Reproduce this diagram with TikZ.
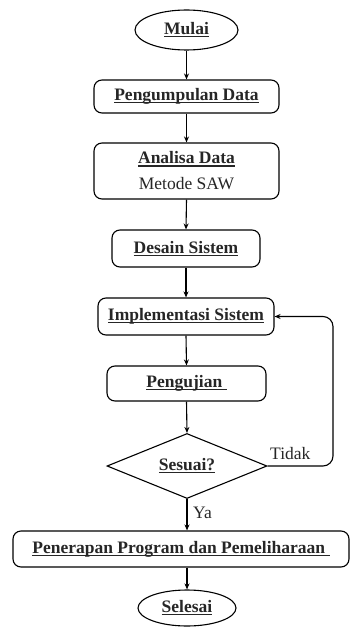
\documentclass[tikz,border=0pt]{standalone}
\usepackage{fontspec}
\setmainfont{Liberation Serif}
\usetikzlibrary{shapes.geometric,arrows.meta,calc}
\newcommand{\ulx}[1]{{\setbox0\hbox{#1}\rlap{\rule[-2.6pt]{\wd0}{1.1pt}}\box0}}
\begin{document}
\begin{tikzpicture}[x=1pt,y=-1pt,
  every node/.style={font=\fontsize{17.5}{21}\selectfont, inner sep=0pt, text=black!85},
  proc/.style={draw, rounded corners=8pt, line width=1.1pt, minimum height=35pt},
  term/.style={draw, ellipse, line width=1.1pt},
  dec/.style={draw, diamond, line width=1.1pt, aspect=2.4},
  arr/.style={draw, line width=1.1pt, -{Stealth[length=6pt,width=5pt]}},
  lbl/.style={font=\fontsize{17.5}{21}\selectfont}]
\useasboundingbox (0,0) rectangle (350,628);
\node[term, minimum width=103pt, minimum height=40pt] (mulai) at (186.5,30) {\bfseries\ulx{Mulai}};
\node[proc, minimum width=185pt, minimum height=33pt] (peng) at (186.5,96.5) {\bfseries\ulx{Pengumpulan Data}};
\node[proc, minimum width=185pt, minimum height=56pt, align=center] (anal) at (186.5,171) {\bfseries\ulx{Analisa Data}\\[5pt]Metode SAW};
\node[proc, minimum width=148pt, minimum height=37pt] (des) at (186,248.5) {\bfseries\ulx{Desain Sistem}};
\node[proc, minimum width=176pt, minimum height=37pt] (impl) at (186,316.5) {\bfseries\ulx{Implementasi Sistem}};
\node[proc, minimum width=159pt, minimum height=35pt] (uji) at (186.5,383.5) {\bfseries\ulx{Pengujian\ }};
\node[dec, minimum width=160pt, minimum height=65pt] (sesuai) at (187,466) {\bfseries\ulx{Sesuai?}};
\node[proc, minimum width=336pt, minimum height=36pt] (pen) at (181,549) {\bfseries\ulx{Penerapan Program dan Pemeliharaan\ }};
\node[term, minimum width=98pt, minimum height=36pt] (sel) at (187,608) {\bfseries\ulx{Selesai}};
\coordinate (fb) at (333,316.5);
\draw[arr] (mulai.south) -- (peng.north);
\draw[arr] (peng.south) -- (anal.north);
\draw[arr] (anal.south) -- (des.north);
\draw[arr] (des.south) -- (impl.north);
\draw[arr] (impl.south) -- (uji.north);
\draw[arr] (uji.south) -- (sesuai.north);
\draw[arr] (sesuai.south) -- (sesuai.south |- pen.north);
\draw[arr] (sel.north |- pen.south) -- (sel.north);
\draw[arr, rounded corners=10pt] (sesuai.east) -| (fb) -- (impl.east);
\node[lbl, anchor=south west] (tidak) at (270,460) {Tidak};
\node[lbl, anchor=west] (ya) at (193,513) {Ya};
\end{tikzpicture}
\end{document}
